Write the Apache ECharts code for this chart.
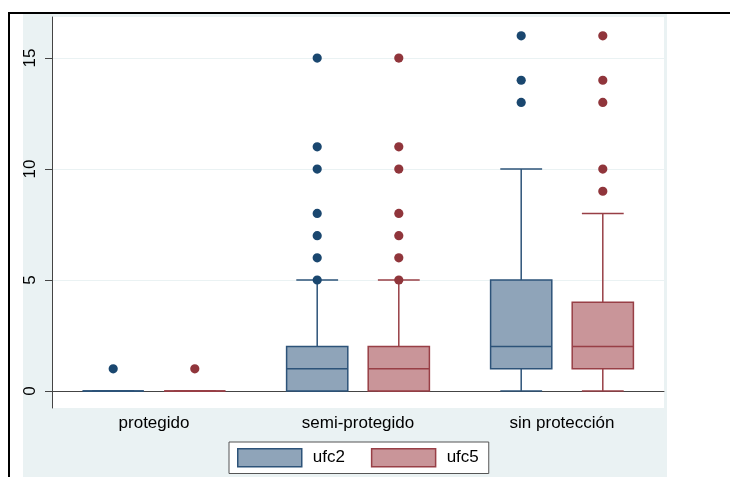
<!DOCTYPE html>
<html>
<head>
<meta charset="utf-8">
<script src="https://cdn.jsdelivr.net/npm/echarts@6/dist/echarts.min.js"></script>
<style>html,body{margin:0;padding:0;background:#fff;}#c{width:730px;height:477px;}</style>
</head>
<body>
<div id="c"></div>
<script>
// ---- data ----
const categories = ['protegido', 'semi-protegido', 'sin protección'];
const yTicks = [0, 5, 10, 15];
// [min, q1, median, q3, max]
const ufc2Box = [[0, 0, 0, 0, 0], [0, 0, 1, 2, 5], [0, 1, 2, 5, 10]];
const ufc5Box = [[0, 0, 0, 0, 0], [0, 0, 1, 2, 5], [0, 1, 2, 4, 8]];
const ufc2Outliers = [[1], [5, 6, 7, 8, 10, 11, 15], [13, 14, 16]];
const ufc5Outliers = [[1], [5, 6, 7, 8, 10, 11, 15], [9, 10, 13, 14, 16]];

const C = {
  ufc2: {fill: '#8fa4b9', stroke: '#2d5379', dot: '#1a476f', off: -0.2},
  ufc5: {fill: '#c99599', stroke: '#983f46', dot: '#90353b', off: 0.2}
};

function boxData(arr) { return arr.map((b, i) => [i].concat(b)); }
function outData(arr) {
  const out = [];
  arr.forEach((vals, i) => vals.forEach(v => out.push([i, v])));
  return out;
}

function boxRender(cfg) {
  return function (params, api) {
    const ci = api.value(0);
    const mn = api.value(1), q1 = api.value(2), md = api.value(3), q3 = api.value(4), mx = api.value(5);
    const band = api.size([1, 0])[0];
    const cx = api.coord([ci, 0])[0] + band * cfg.off;
    const bw = band * 0.3, cw = band * 0.205;
    const y = v => api.coord([ci, v])[1];
    const ls = {stroke: cfg.stroke, lineWidth: 1.5, fill: null};
    return {
      type: 'group',
      children: [
        {type: 'line', shape: {x1: cx, y1: y(q3), x2: cx, y2: y(mx)}, style: ls},
        {type: 'line', shape: {x1: cx - cw / 2, y1: y(mx), x2: cx + cw / 2, y2: y(mx)}, style: ls},
        {type: 'line', shape: {x1: cx, y1: y(q1), x2: cx, y2: y(mn)}, style: ls},
        {type: 'line', shape: {x1: cx - cw / 2, y1: y(mn), x2: cx + cw / 2, y2: y(mn)}, style: ls},
        {type: 'rect', shape: {x: cx - bw / 2, y: y(q3), width: bw, height: y(q1) - y(q3)},
          style: {fill: cfg.fill, stroke: cfg.stroke, lineWidth: 1.5}},
        {type: 'line', shape: {x1: cx - bw / 2, y1: y(md), x2: cx + bw / 2, y2: y(md)}, style: ls}
      ]
    };
  };
}
function dotRender(cfg) {
  return function (params, api) {
    const ci = api.value(0);
    const band = api.size([1, 0])[0];
    const p = api.coord([ci, api.value(1)]);
    return {type: 'circle', shape: {cx: p[0] + band * cfg.off, cy: p[1], r: 4.6}, style: {fill: cfg.dot}};
  };
}

const chart = echarts.init(document.getElementById('c'), null, {renderer: 'canvas'});
const font = '"Liberation Sans", Arial, Helvetica, sans-serif';
chart.setOption({
  animation: false,
  backgroundColor: '#ffffff',
  graphic: [
    {type: 'rect', z: -10, shape: {x: 23, y: 14, width: 644, height: 463}, style: {fill: '#eaf2f3'}},
    {type: 'line', z: 10, shape: {x1: 8, y1: 13, x2: 730, y2: 13}, style: {stroke: '#000', lineWidth: 2}},
    {type: 'line', z: 10, shape: {x1: 9, y1: 12, x2: 9, y2: 477}, style: {stroke: '#000', lineWidth: 2}}
  ],
  grid: {left: 52, right: 66, top: 17, bottom: 69, show: true, backgroundColor: '#ffffff', borderWidth: 0},
  legend: {
    left: 229, top: 442,
    data: [
      {name: 'ufc2', itemStyle: {color: C.ufc2.fill, borderColor: C.ufc2.stroke, borderWidth: 1.5}},
      {name: 'ufc5', itemStyle: {color: C.ufc5.fill, borderColor: C.ufc5.stroke, borderWidth: 1.5}}
    ],
    icon: 'rect', itemWidth: 64, itemHeight: 18, itemGap: 26,
    padding: [6, 10, 6, 8],
    backgroundColor: '#ffffff', borderColor: '#555', borderWidth: 1, borderRadius: 0,
    textStyle: {fontSize: 17, color: '#000', fontFamily: font, padding: [0, 0, 0, 6]}
  },
  xAxis: {
    type: 'category', data: categories, boundaryGap: true,
    axisLine: {lineStyle: {color: '#444', width: 1}},
    axisTick: {show: false},
    axisLabel: {fontSize: 17, color: '#000', fontFamily: font, margin: 7},
    splitLine: {show: false}
  },
  yAxis: {
    type: 'value', min: -0.766, max: 16.85,
    axisLine: {show: true, lineStyle: {color: '#444', width: 1}},
    axisTick: {show: true, length: 7, lineStyle: {color: '#444'}, customValues: yTicks},
    axisLabel: {rotate: 90, fontSize: 17, color: '#000', fontFamily: font, margin: 13, customValues: yTicks},
    splitLine: {show: true, lineStyle: {color: '#eaf2f3', width: 1.2}}
  },
  series: [
    {name: 'ufc2', type: 'custom', renderItem: boxRender(C.ufc2), data: boxData(ufc2Box),
      encode: {x: 0, y: [1, 2, 3, 4, 5]}, itemStyle: {color: C.ufc2.fill}, z: 3},
    {name: 'ufc5', type: 'custom', renderItem: boxRender(C.ufc5), data: boxData(ufc5Box),
      encode: {x: 0, y: [1, 2, 3, 4, 5]}, itemStyle: {color: C.ufc5.fill}, z: 3},
    {name: 'ufc2', type: 'custom', renderItem: dotRender(C.ufc2), data: outData(ufc2Outliers),
      encode: {x: 0, y: 1}, itemStyle: {color: C.ufc2.fill}, z: 4},
    {name: 'ufc5', type: 'custom', renderItem: dotRender(C.ufc5), data: outData(ufc5Outliers),
      encode: {x: 0, y: 1}, itemStyle: {color: C.ufc5.fill}, z: 4}
  ]
});
</script>
</body>
</html>
